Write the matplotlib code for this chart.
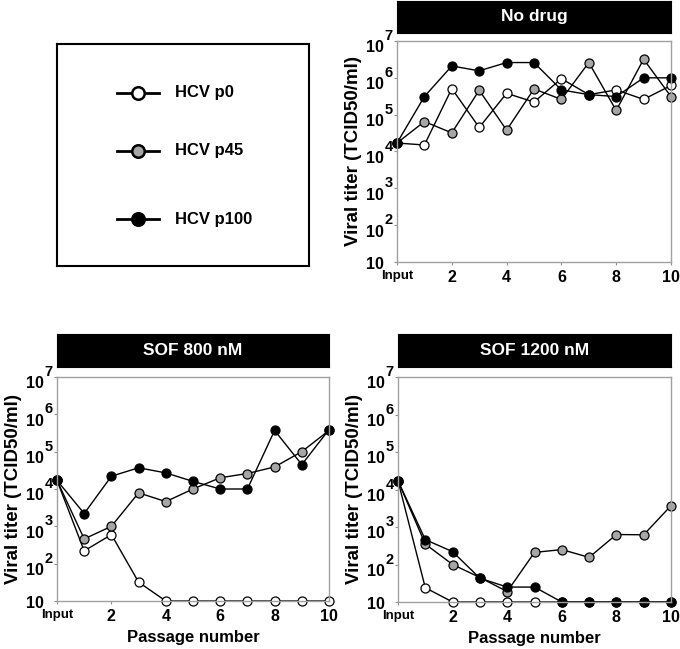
import matplotlib
matplotlib.use("Agg")
import matplotlib.pyplot as plt

plt.rcParams['font.family'] = ['Liberation Sans', 'DejaVu Sans']
plt.rcParams['font.weight'] = 'bold'

# passages (0 = Input)
passages = [0, 1, 2, 3, 4, 5, 6, 7, 8, 9, 10]
xtick_pos = [0, 2, 4, 6, 8, 10]
xtick_labels = ['Input', '2', '4', '6', '8', '10']
ytick_vals = [10, 1e2, 1e3, 1e4, 1e5, 1e6, 1e7]
ytick_exps = ['', '2', '3', '4', '5', '6', '7']

series_names = ['HCV p0', 'HCV p45', 'HCV p100']
series_colors = ['white', '#a6a6a6', 'black']

# viral titer (TCID50/ml)
nodrug_p0 = [1.7e4, 1.5e4, 5.1e5, 4.5e4, 3.8e5, 2.2e5, 9.5e5, 3.5e5, 4.7e5, 2.6e5, 6.2e5]
nodrug_p45 = [1.7e4, 6.5e4, 3.2e4, 4.6e5, 3.8e4, 5.0e5, 2.6e5, 2.6e6, 1.3e5, 3.2e6, 3.1e5]
nodrug_p100 = [1.7e4, 3.1e5, 2.1e6, 1.55e6, 2.6e6, 2.6e6, 4.7e5, 3.5e5, 3.1e5, 1.0e6, 1.0e6]

sof800_p0 = [1.7e4, 2.2e2, 6.0e2, 32, 10, 10, 10, 10, 10, 10, 10]
sof800_p45 = [1.7e4, 4.6e2, 1.0e3, 7.9e3, 4.6e3, 1.0e4, 2.0e4, 2.6e4, 3.9e4, 1.0e5, 3.7e5]
sof800_p100 = [1.7e4, 2.2e3, 2.2e4, 3.7e4, 2.7e4, 1.6e4, 1.0e4, 1.0e4, 3.7e5, 4.5e4, 3.9e5]

sof1200_p0 = [1.7e4, 24, 10, 10, 10, 10, 10, 10, 10, 10, 10]
sof1200_p45 = [1.7e4, 3.5e2, 1.0e2, 45, 19, 2.1e2, 2.5e2, 1.55e2, 6.3e2, 6.2e2, 3.7e3]
sof1200_p100 = [1.7e4, 4.6e2, 2.2e2, 43, 25, 25, 10, 10, 10, 10, 10]

W, H = 680, 649
fig = plt.figure(figsize=(6.8, 6.49), dpi=100)


def box(x0, y0, x1, y1):
    # pixel box (top-left origin) -> figure fraction rect
    return [x0 / W, (H - y1) / H, (x1 - x0) / W, (y1 - y0) / H]


def panel(rect, bar_rect, title, data, xlabel=True):
    ax = fig.add_axes(rect)
    for vals, col in zip(data, series_colors):
        ax.plot(passages, vals, '-o', color='black', lw=1.0, ms=6.5,
                mfc=col, mec='black', mew=0.9, clip_on=False)
    ax.set_yscale('log')
    ax.set_ylim(10, 1e7)
    ax.set_xlim(0, 10)
    ax.minorticks_off()
    ax.set_yticks(ytick_vals)
    ax.set_yticklabels([])
    ax.set_xticks(xtick_pos)
    ax.set_xticklabels(xtick_labels)
    for i, lab in enumerate(ax.get_xticklabels()):
        lab.set_fontsize(9.5 if i == 0 else 11.5)
        lab.set_fontweight('bold')
        if i == 0:
            lab.set_x(0.2)
    ax.tick_params(length=2, width=0.8, color='#909090', pad=4)
    for s in ax.spines.values():
        s.set_color('#a0a0a0')
        s.set_linewidth(1.0)
    # y tick labels "10" with separate exponent
    for v, e in zip(ytick_vals, ytick_exps):
        ax.annotate('10', xy=(0, v), xycoords=('axes fraction', 'data'),
                    xytext=(-9.5, -5 if e else -1.5), textcoords='offset points',
                    ha='right', va='center', fontsize=11.5, fontweight='bold')
        if e:
            ax.annotate(e, xy=(0, v), xycoords=('axes fraction', 'data'),
                        xytext=(-8.8, 3.5), textcoords='offset points',
                        ha='left', va='center', fontsize=10.5, fontweight='bold')
    ax.set_ylabel('Viral titer (TCID50/ml)', fontsize=13.5, fontweight='bold', labelpad=19)
    if xlabel:
        ax.set_xlabel('Passage number', fontsize=12, fontweight='bold', labelpad=4)
    bar = fig.add_axes(bar_rect)
    bar.set_facecolor('black')
    bar.set_xticks([])
    bar.set_yticks([])
    bar.text(0.5, 0.5, title, color='white', ha='center', va='center',
             fontsize=12.5, fontweight='bold', transform=bar.transAxes)
    return ax


panel(box(397, 41, 671, 262), box(397, 1, 671, 33), 'No drug',
      [nodrug_p0, nodrug_p45, nodrug_p100], xlabel=False)
panel(box(57, 377, 329, 601), box(57, 334, 329, 367), 'SOF 800 nM',
      [sof800_p0, sof800_p45, sof800_p100])
panel(box(398, 377, 671, 602), box(398, 334, 671, 367), 'SOF 1200 nM',
      [sof1200_p0, sof1200_p45, sof1200_p100])

# legend box
lg = fig.add_axes(box(57, 44, 309, 266))
lg.set_xlim(0, 1)
lg.set_ylim(0, 1)
lg.set_xticks([])
lg.set_yticks([])
for s in lg.spines.values():
    s.set_linewidth(1.5)
    s.set_color('black')
leg_y = [0.78, 0.52, 0.21]
for name, col, yy in zip(series_names, series_colors, leg_y):
    lg.plot([0.24, 0.405], [yy, yy], color='black', lw=2)
    lg.plot([0.32], [yy], 'o', ms=9, mfc=col, mec='black', mew=1.8)
    lg.text(0.47, yy, name, ha='left', va='center', fontsize=12, fontweight='bold')

fig.savefig('out.png', dpi=100)
